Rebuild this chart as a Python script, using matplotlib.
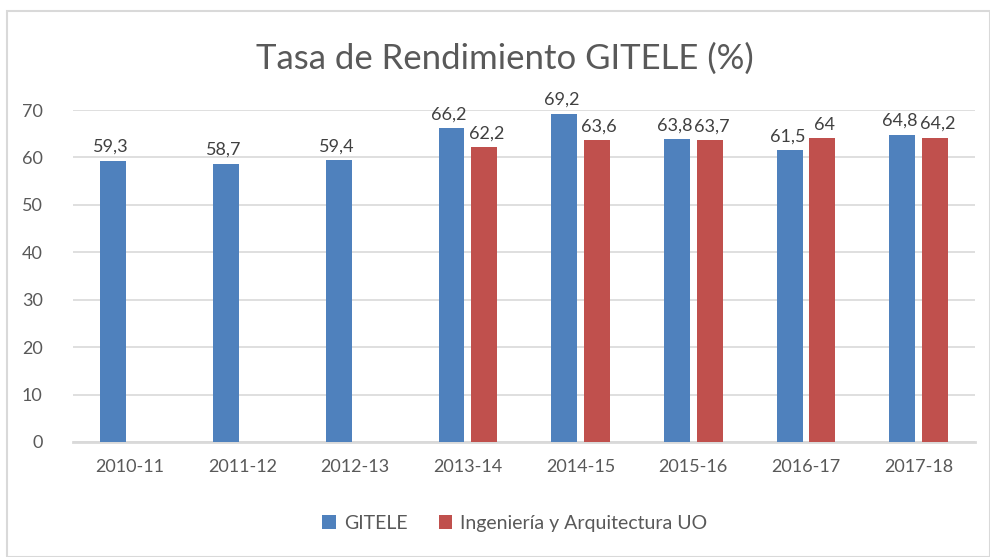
import matplotlib.pyplot as plt
import numpy as np
from matplotlib.patches import Rectangle

plt.rcParams['font.family'] = ['Lato', 'DejaVu Sans']

years = ['2010-11', '2011-12', '2012-13', '2013-14', '2014-15',
         '2015-16', '2016-17', '2017-18']
gitele = [59.3, 58.7, 59.4, 66.2, 69.2, 63.8, 61.5, 64.8]
uo = [None, None, None, 62.2, 63.6, 63.7, 64.0, 64.2]

BLUE = '#4F81BD'
RED = '#C0504D'
TEXT = '#595959'
GRID = '#D9D9D9'


def fmt(v):
    s = ('%.1f' % v).rstrip('0').rstrip('.')
    return s.replace('.', ',')


fig = plt.figure(figsize=(9.9, 5.57), dpi=100)
ax = fig.add_axes([0.074, 0.2065, 0.911, 0.596])

x = np.arange(len(years))
w = 0.23
off = 0.145

gb = ax.bar(x - off, gitele, w, color=BLUE, label='GITELE', zorder=3)
ux = [i for i, v in enumerate(uo) if v is not None]
uv = [v for v in uo if v is not None]
rb = ax.bar(np.array(ux) + off, uv, w, color=RED,
            label='Ingeniería y Arquitectura UO', zorder=3)

for bar, v in zip(gb, gitele):
    ax.text(bar.get_x() + bar.get_width() / 2 - 0.02, v + 1.2, fmt(v),
            ha='center', va='bottom', fontsize=13, color='#404040')
for bar, v in zip(rb, uv):
    ax.text(bar.get_x() + bar.get_width() / 2 + 0.02, v + 1.2, fmt(v),
            ha='center', va='bottom', fontsize=13, color='#404040')

ax.set_xlim(-0.5, len(years) - 0.5)
ax.set_ylim(0, 70)
ax.set_yticks(range(0, 71, 10))
ax.set_xticks(x)
ax.set_xticklabels(years)
ax.tick_params(axis='both', length=0, labelsize=13, colors=TEXT)
ax.tick_params(axis='x', pad=12)
ax.tick_params(axis='y', pad=22)
ax.grid(axis='y', color=GRID, linewidth=1.2, zorder=0)
for s in ['top', 'right', 'left']:
    ax.spines[s].set_visible(False)
ax.spines['bottom'].set_color(GRID)
ax.spines['bottom'].set_linewidth(2)

fig.text(0.51, 0.895, 'Tasa de Rendimiento GITELE (%)', ha='center',
         va='center', fontsize=25, color=TEXT)

fig.legend(handles=[gb, rb], loc='center', bbox_to_anchor=(0.52, 0.06),
           ncol=2, frameon=False, fontsize=14, labelcolor=TEXT,
           handlelength=0.7, handleheight=0.7, handletextpad=0.4,
           columnspacing=1.6)

fig.patches.append(Rectangle((0.007, 0.0), 0.993, 0.98, transform=fig.transFigure,
                             fill=False, edgecolor=GRID, linewidth=1.5))

fig.savefig('out.png', dpi=100)
